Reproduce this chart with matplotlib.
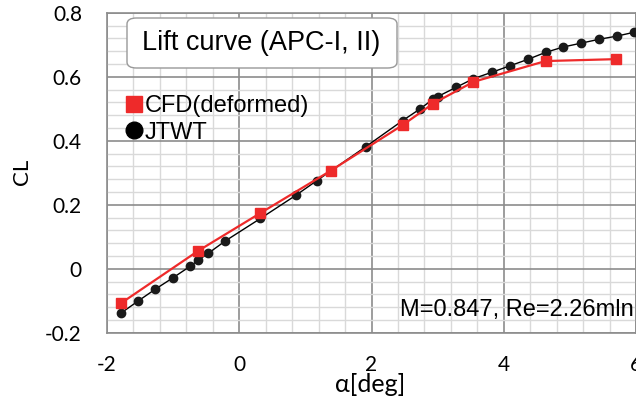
import matplotlib.pyplot as plt
from matplotlib.lines import Line2D
from matplotlib.ticker import MultipleLocator
from matplotlib.patches import FancyBboxPatch

plt.rcParams['axes.unicode_minus'] = False

# JTWT experiment
jtwt_alpha = [-1.79, -1.53, -1.27, -1.00, -0.74, -0.62, -0.47, -0.21, 0.32, 0.86,
              1.17, 1.91, 2.47, 2.73, 2.93, 3.00, 3.28, 3.54, 3.82, 4.09,
              4.36, 4.63, 4.90, 5.17, 5.44, 5.71, 5.97]
jtwt_cl = [-0.139, -0.101, -0.064, -0.028, 0.008, 0.027, 0.048, 0.087, 0.157, 0.230,
           0.275, 0.381, 0.463, 0.499, 0.530, 0.538, 0.567, 0.594, 0.614, 0.634,
           0.654, 0.676, 0.693, 0.705, 0.717, 0.727, 0.739]

# CFD (deformed)
cfd_alpha = [-1.79, -0.62, 0.32, 1.38, 2.47, 2.93, 3.54, 4.63, 5.70]
cfd_cl = [-0.108, 0.056, 0.174, 0.306, 0.449, 0.516, 0.584, 0.649, 0.655]

x_ticks = [-2, 0, 2, 4, 6]
y_ticks = [-0.2, 0, 0.2, 0.4, 0.6, 0.8]
y_ticklabels = ['-0.2', '0', '0.2', '0.4', '0.6', '0.8']

fig = plt.figure(figsize=(6.36, 3.98), dpi=100)
ax = fig.add_axes([0.1682, 0.164, 0.832, 0.804])

ax.plot(jtwt_alpha, jtwt_cl, color='black', lw=1.0, marker='o', ms=6,
        mfc='#1a1a1a', mec='#1a1a1a', zorder=3)
ax.plot(cfd_alpha, cfd_cl, color='#ee2a2a', lw=1.6, marker='s', ms=7,
        mfc='#ee2a2a', mec='#ee2a2a', zorder=4)

ax.set_xlim(-2, 6)
ax.set_ylim(-0.2, 0.8)
ax.set_xticks(x_ticks)
ax.set_yticks(y_ticks)
ax.set_yticklabels(y_ticklabels)
ax.xaxis.set_minor_locator(MultipleLocator(0.4))
ax.yaxis.set_minor_locator(MultipleLocator(0.04))
ax.grid(which='minor', color='#d9d9d9', lw=1.0)
ax.grid(which='major', color='#8c8c8c', lw=1.2)
ax.set_axisbelow(True)
for s in ax.spines.values():
    s.set_color('#8c8c8c')
    s.set_linewidth(1.2)
ax.tick_params(which='both', length=0)
ax.tick_params(axis='x', pad=16, labelsize=15)
ax.tick_params(axis='y', pad=18, labelsize=15)
for lab in ax.get_xticklabels() + ax.get_yticklabels():
    lab.set_fontfamily('Lato')

fig.text(370 / 636, 1 - 384 / 398, 'α[deg]', ha='center', va='center',
         fontsize=18, family='Lato')
fig.text(22 / 636, 1 - 172 / 398, 'CL', ha='center', va='center',
         rotation=90, fontsize=16, family='Lato')

# title box
box = FancyBboxPatch((127 / 636, 1 - 68 / 398), 270 / 636, 50 / 398,
                     boxstyle='round,pad=0,rounding_size=0.015',
                     transform=fig.transFigure, fc='white', ec='#999999',
                     lw=1.0, zorder=5)
fig.patches.append(box)
fig.text(142 / 636, 1 - 43 / 398, 'Lift curve (APC-I, II)', ha='left',
         va='center', fontsize=19.5, family='Liberation Sans', zorder=6)

handles = [
    Line2D([], [], ls='none', marker='s', ms=11.5, color='#ee2a2a'),
    Line2D([], [], ls='none', marker='o', ms=12, color='black'),
]
leg = ax.legend(handles, ['CFD(deformed)', 'JTWT'], loc='upper left',
                bbox_to_anchor=(127 / 636, 1 - 95 / 398),
                bbox_transform=fig.transFigure, frameon=False,
                prop={'family': 'Liberation Sans', 'size': 17},
                handlelength=0.6, handletextpad=0.15, labelspacing=0.2,
                borderpad=0, borderaxespad=0)

ax.text(5.97, -0.13, 'M=0.847, Re=2.26mln', ha='right', va='center',
        fontsize=17, family='Liberation Sans', zorder=6)

fig.savefig('out.png', dpi=100)
